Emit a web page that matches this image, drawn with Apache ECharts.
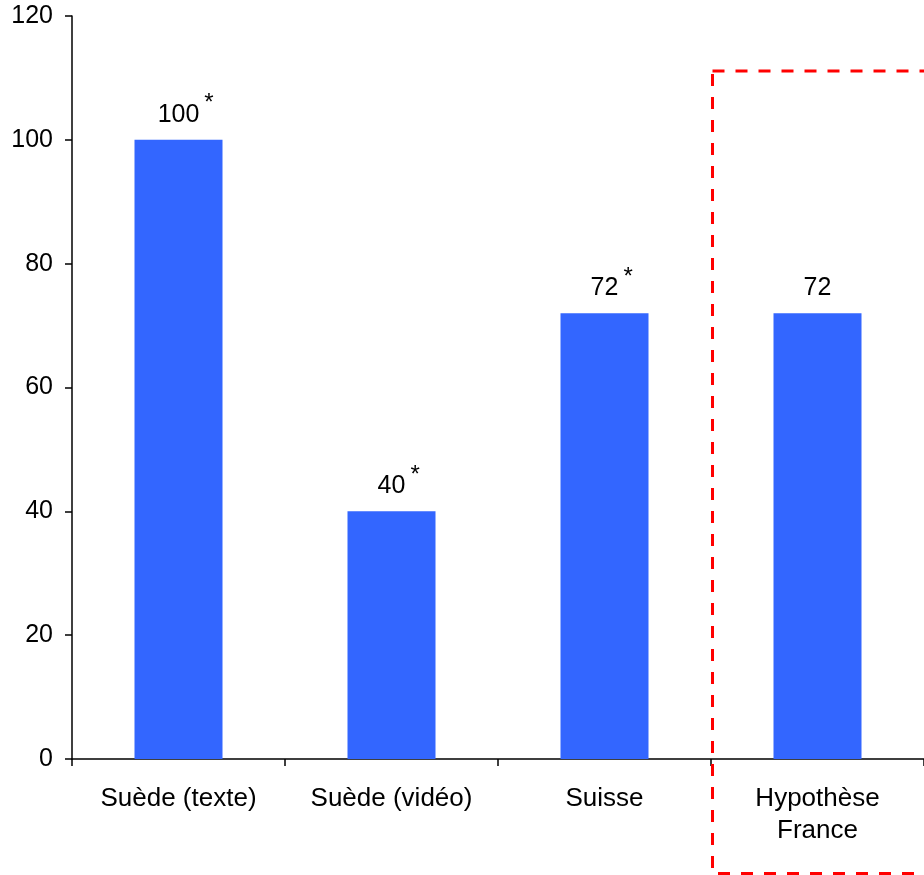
<!DOCTYPE html>
<html>
<head>
<meta charset="utf-8">
<script src="https://cdn.jsdelivr.net/npm/echarts@6/dist/echarts.min.js"></script>
<style>
html,body{margin:0;padding:0;background:#fff;}
#main{width:924px;height:875px;}
</style>
</head>
<body>
<div id="main"></div>
<script>
const categories = ['Suède (texte)', 'Suède (vidéo)', 'Suisse', 'Hypothèse\nFrance'];
const values = [100, 40, 72, 72];
const starred = [true, true, true, false];
const yTicks = [0, 20, 40, 60, 80, 100, 120];

const chart = echarts.init(document.getElementById('main'));
const FONT = 'Liberation Sans, Arial, sans-serif';

chart.setOption({
  animation: false,
  backgroundColor: '#ffffff',
  grid: { left: 72, right: -5, top: 16, bottom: 116, containLabel: false },
  xAxis: {
    type: 'category',
    data: categories,
    axisLine: { lineStyle: { color: '#000', width: 1.5 } },
    axisTick: { show: true, length: 7, alignWithLabel: false, lineStyle: { color: '#000', width: 1.5 } },
    axisLabel: { color: '#000', fontSize: 26, fontFamily: FONT, margin: 24, lineHeight: 32, interval: 0 },
    splitLine: { show: false }
  },
  yAxis: {
    type: 'value',
    min: yTicks[0],
    max: yTicks[yTicks.length - 1],
    interval: 20,
    axisLine: { show: true, lineStyle: { color: '#000', width: 1.5 } },
    axisTick: { show: true, length: 7, lineStyle: { color: '#000', width: 1.5 } },
    axisLabel: { color: '#000', fontSize: 25, fontFamily: FONT, margin: 19 },
    splitLine: { show: false }
  },
  series: [{
    type: 'bar',
    data: values.map((v, i) => ({ value: v, star: starred[i] })),
    barWidth: 88,
    itemStyle: { color: '#3366FF' },
    label: {
      show: true,
      position: 'top',
      distance: 2,
      formatter: function (p) {
        return starred[p.dataIndex]
          ? '{h|*}{v|' + p.value + '}{a|*}'
          : '{h|*}{v|' + p.value + '}{h|*}';
      },
      rich: {
        v: { fontSize: 25, fontFamily: FONT, color: '#000' },
        a: { fontSize: 24, fontFamily: FONT, color: '#000', padding: [0, 0, 22, 5] },
        h: { fontSize: 24, fontFamily: FONT, color: 'rgba(0,0,0,0)', padding: [0, 5, 22, 0] }
      }
    }
  }],
  graphic: [{
    type: 'rect',
    shape: { x: 712.5, y: 71, width: 240, height: 802.5 },
    style: { fill: 'none', stroke: '#FF0000', lineWidth: 3, lineDash: [12, 11] },
    z: 100
  }]
});
</script>
</body>
</html>
